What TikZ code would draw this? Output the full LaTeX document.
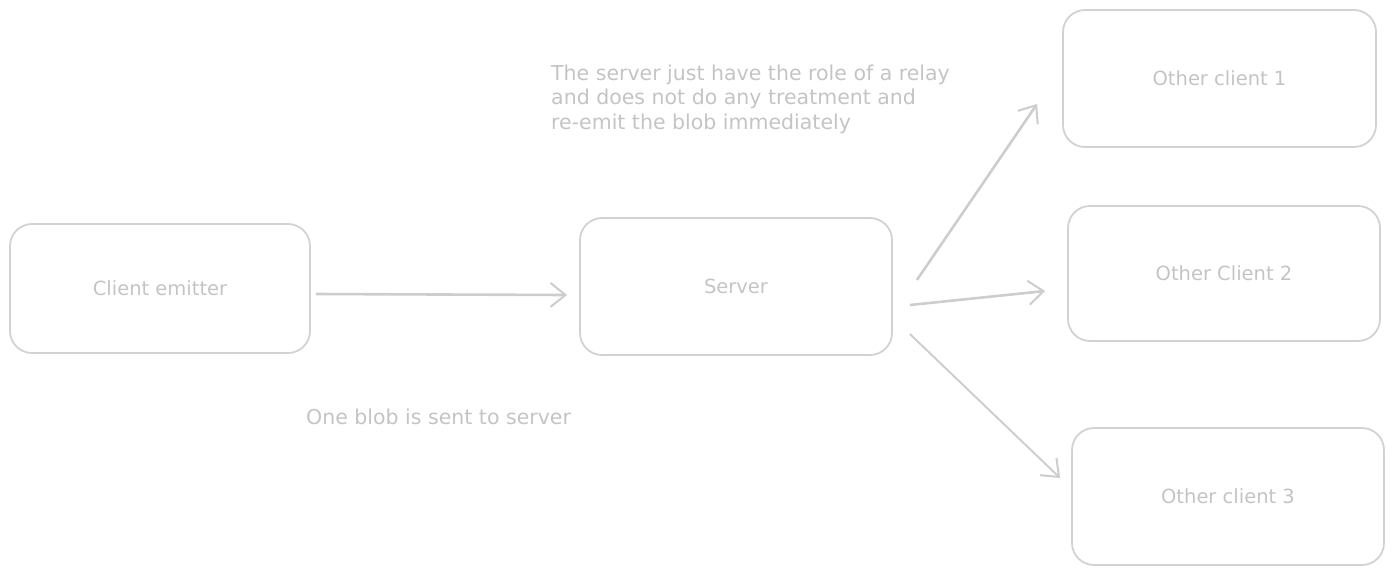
\documentclass[tikz,border=0pt]{standalone}
\usepackage{fontspec}
\setmainfont{DejaVu Sans}
\usetikzlibrary{arrows.meta,calc}
\definecolor{boxc}{HTML}{D2D2D2}
\definecolor{txtc}{HTML}{C4C4C4}
\definecolor{arrc}{HTML}{CDCDCD}
\tikzset{
  box/.style={draw=boxc, line width=1.8pt, rounded corners=22pt, text=txtc, font=\fontsize{19.5}{22}\selectfont, inner sep=0pt},
  arr/.style={draw=arrc, line width=2.6pt, -{Straight Barb[length=15pt,width=24pt,line width=2pt]}},
  note/.style={text=txtc, font=\fontsize{20.5}{24.5}\selectfont, inner sep=0pt, align=left},
}
\begin{document}
\begin{tikzpicture}[x=1pt,y=-1pt]
\useasboundingbox (0,0) rectangle (1394,574);
\node[box, minimum width=300pt, minimum height=129pt] (ce) at (160,288.5) {Client emitter};
\node[box, minimum width=312pt, minimum height=137pt] (srv) at (736,286.5) {Server};
\node[box, minimum width=313pt, minimum height=137pt] (c1) at (1219.5,78.5) {Other client 1};
\node[box, minimum width=312pt, minimum height=135pt] (c2) at (1224,273.5) {Other Client 2};
\node[box, minimum width=312pt, minimum height=137pt] (c3) at (1228,496.5) {Other client 3};
\node[note, anchor=north west] (n1) at (551,64.5) {The server just have the role of a relay\\and does not do any treatment and\\re-emit the blob immediately};
\node[note, anchor=west] (n2) at (306,417) {One blob is sent to server};
\draw[arr] ($(ce.east)+(5,5.5)$) -- ($(srv.west)+(-12,8.5)$);
\draw[arr] ($(srv.east)+(24,-6.5)$) -- ($(c1.south west)+(-25,-44)$);
\draw[arr] ($(srv.east)+(17,18.5)$) -- ($(c2.west)+(-22,17.5)$);
\draw[arr, line width=1.9pt] ($(srv.east)+(17,47.5)$) -- ($(c3.west)+(-11,-18.5)$);
\end{tikzpicture}
\end{document}
